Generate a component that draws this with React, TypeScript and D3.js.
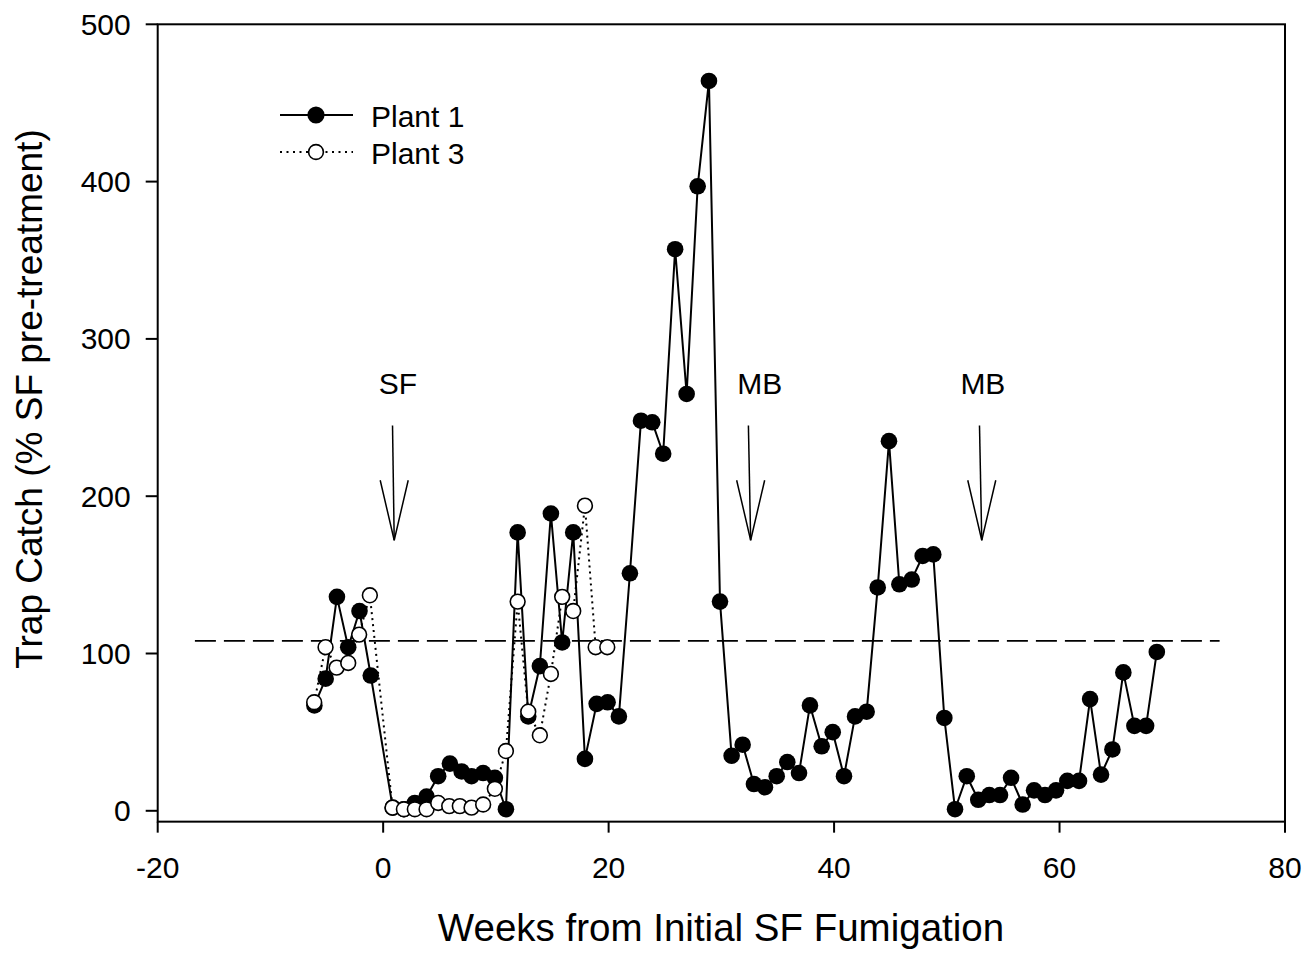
import * as d3 from "d3";

// Plant 1 (filled circles, solid line)
const weeks1 = [
  -6.1, -5.1, -4.1, -3.1, -2.1, -1.1, 0.85, 1.85, 2.81, 3.85, 4.88, 5.92, 6.96, 7.84, 8.87, 9.91, 10.89,
  11.93, 12.87, 13.9, 14.88, 15.88, 16.86, 17.9, 18.94, 19.91, 20.91, 21.89, 22.87, 23.87, 24.84, 25.9,
  26.92, 27.9, 28.9, 29.88, 30.91, 31.89, 32.89, 33.87, 34.91, 35.85, 36.89, 37.86, 38.9, 39.88, 40.88,
  41.86, 42.89, 43.87, 44.87, 45.79, 46.89, 47.86, 48.8, 49.78, 50.73, 51.77, 52.79, 53.77, 54.72, 55.7,
  56.73, 57.74, 58.71, 59.69, 60.69, 61.73, 62.71, 63.68, 64.69, 65.66, 66.64, 67.68, 68.63,
];
const catch1 = [
  67, 84, 136, 104, 127, 86, 2, 1, 5, 9, 22, 30, 25, 22, 24, 21, 1,
  177, 60, 92, 189, 107, 177, 33, 68, 69, 60, 151, 248, 247, 227, 357,
  265, 397, 464, 133, 35, 42, 17, 15, 22, 31, 24, 67, 41, 50, 22,
  60, 63, 142, 235, 144, 147, 162, 163, 59, 1, 22, 7, 10, 10, 21,
  4, 13, 10, 13, 19, 19, 71, 23, 39, 88, 54, 54, 101,
];

// Plant 3 (open circles, dotted line)
const weeks3 = [
  -6.12, -5.11, -4.13, -3.1, -2.13, -1.18, 0.83, 1.84, 2.81, 3.85, 4.88, 5.86, 6.8, 7.84, 8.87, 9.91,
  10.89, 11.93, 12.87, 13.9, 14.88, 15.88, 16.86, 17.9, 18.85, 19.88,
];
const catch3 = [
  69, 104, 91, 94, 112, 137, 2, 1, 1, 1, 5, 3, 3, 2, 4, 14,
  38, 133, 63, 48, 87, 136, 127, 194, 104, 104,
];

const xTicks = [-20, 0, 20, 40, 60, 80];
const yTicks = [0, 100, 200, 300, 400, 500];

// reference line (pre-treatment level)
const refLevel = 108;
const refFrom = -16.7;
const refTo = 74.2;

// treatment arrows
const arrowLabels = ["SF", "MB", "MB"];
const arrowTopX = [0.83, 32.4, 52.9];
const arrowTipX = [0.98, 32.6, 53.1];
const labelX = [1.3, 33.4, 53.2];
const arrowTop = 245;
const arrowTip = 172;
const labelLevel = 265;

const FONT = "'Liberation Sans', Arial, Helvetica, sans-serif";

export default function App() {
  const width = 1307;
  const height = 953;
  const x = d3.scaleLinear().domain([-20, 80]).range([157.7, 1285]);
  const y = d3.scaleLinear().domain([0, 500]).range([810.8, 24.3]);
  const yBottom = y(-6.9);

  const pts1 = weeks1.map((w, i) => [w, catch1[i]] as [number, number]);
  const pts3 = weeks3.map((w, i) => [w, catch3[i]] as [number, number]);
  const line = d3
    .line<[number, number]>()
    .x((d) => x(d[0]))
    .y((d) => y(d[1]));

  return (
    <svg
      width={width}
      height={height}
      style={{ position: "absolute", left: 0, top: 0, background: "#fff" }}
      fontFamily={FONT}
    >
      {/* frame */}
      <rect
        x={x(-20)}
        y={y(500)}
        width={x(80) - x(-20)}
        height={yBottom - y(500)}
        fill="none"
        stroke="#000"
        strokeWidth={2}
      />
      {/* y ticks */}
      {yTicks.map((t) => (
        <g key={"y" + t}>
          <line x1={x(-20) - 12} x2={x(-20)} y1={y(t)} y2={y(t)} stroke="#000" strokeWidth={2} />
          <text x={x(-20) - 27} y={y(t) + 10.5} textAnchor="end" fontSize={30}>
            {t}
          </text>
        </g>
      ))}
      {/* x ticks */}
      {xTicks.map((t) => (
        <g key={"x" + t}>
          <line x1={x(t)} x2={x(t)} y1={yBottom} y2={yBottom + 11} stroke="#000" strokeWidth={2} />
          <text x={x(t)} y={878} textAnchor="middle" fontSize={30}>
            {t}
          </text>
        </g>
      ))}

      {/* axis titles */}
      <text x={721} y={941} textAnchor="middle" fontSize={38.5}>
        Weeks from Initial SF Fumigation
      </text>
      <text
        transform={`translate(42,399) rotate(-90)`}
        textAnchor="middle"
        fontSize={37}
      >
        Trap Catch (% SF pre-treatment)
      </text>

      {/* dashed reference */}
      <line
        x1={x(refFrom)}
        x2={x(refTo)}
        y1={y(refLevel)}
        y2={y(refLevel)}
        stroke="#000"
        strokeWidth={1.6}
        strokeDasharray="21 8"
      />

      {/* arrows */}
      {arrowLabels.map((lab, i) => {
        const x0 = x(arrowTopX[i]);
        const x1 = x(arrowTipX[i]);
        const y0 = y(arrowTop);
        const y1 = y(arrowTip);
        const hy = y1 - 60;
        return (
          <g key={"a" + i} stroke="#000" strokeWidth={1.5} fill="none">
            <line x1={x0} y1={y0} x2={x1} y2={y1} />
            <polyline points={`${x1 - 14},${hy} ${x1},${y1} ${x1 + 14},${hy}`} />
            <text x={x(labelX[i])} y={y(labelLevel)} textAnchor="middle" fontSize={30} stroke="none" fill="#000">
              {lab}
            </text>
          </g>
        );
      })}

      {/* Plant 1 */}
      <path d={line(pts1) ?? ""} fill="none" stroke="#000" strokeWidth={2} />
      {pts1.map((d, i) => (
        <circle key={"p1" + i} cx={x(d[0])} cy={y(d[1])} r={8.3} fill="#000" />
      ))}

      {/* Plant 3 */}
      <path d={line(pts3) ?? ""} fill="none" stroke="#000" strokeWidth={2} strokeDasharray="2 4" />
      {pts3.map((d, i) => (
        <circle key={"p3" + i} cx={x(d[0])} cy={y(d[1])} r={7.4} fill="#fff" stroke="#000" strokeWidth={1.6} />
      ))}

      {/* legend */}
      <g>
        <line x1={280} x2={353} y1={115} y2={115} stroke="#000" strokeWidth={2} />
        <circle cx={316} cy={115} r={8.6} fill="#000" />
        <text x={371} y={126.5} fontSize={30}>
          Plant 1
        </text>
        <line x1={280} x2={353} y1={152} y2={152} stroke="#000" strokeWidth={2} strokeDasharray="2 4.5" />
        <circle cx={316} cy={152} r={7.4} fill="#fff" stroke="#000" strokeWidth={1.6} />
        <text x={371} y={163.5} fontSize={30}>
          Plant 3
        </text>
      </g>
    </svg>
  );
}
